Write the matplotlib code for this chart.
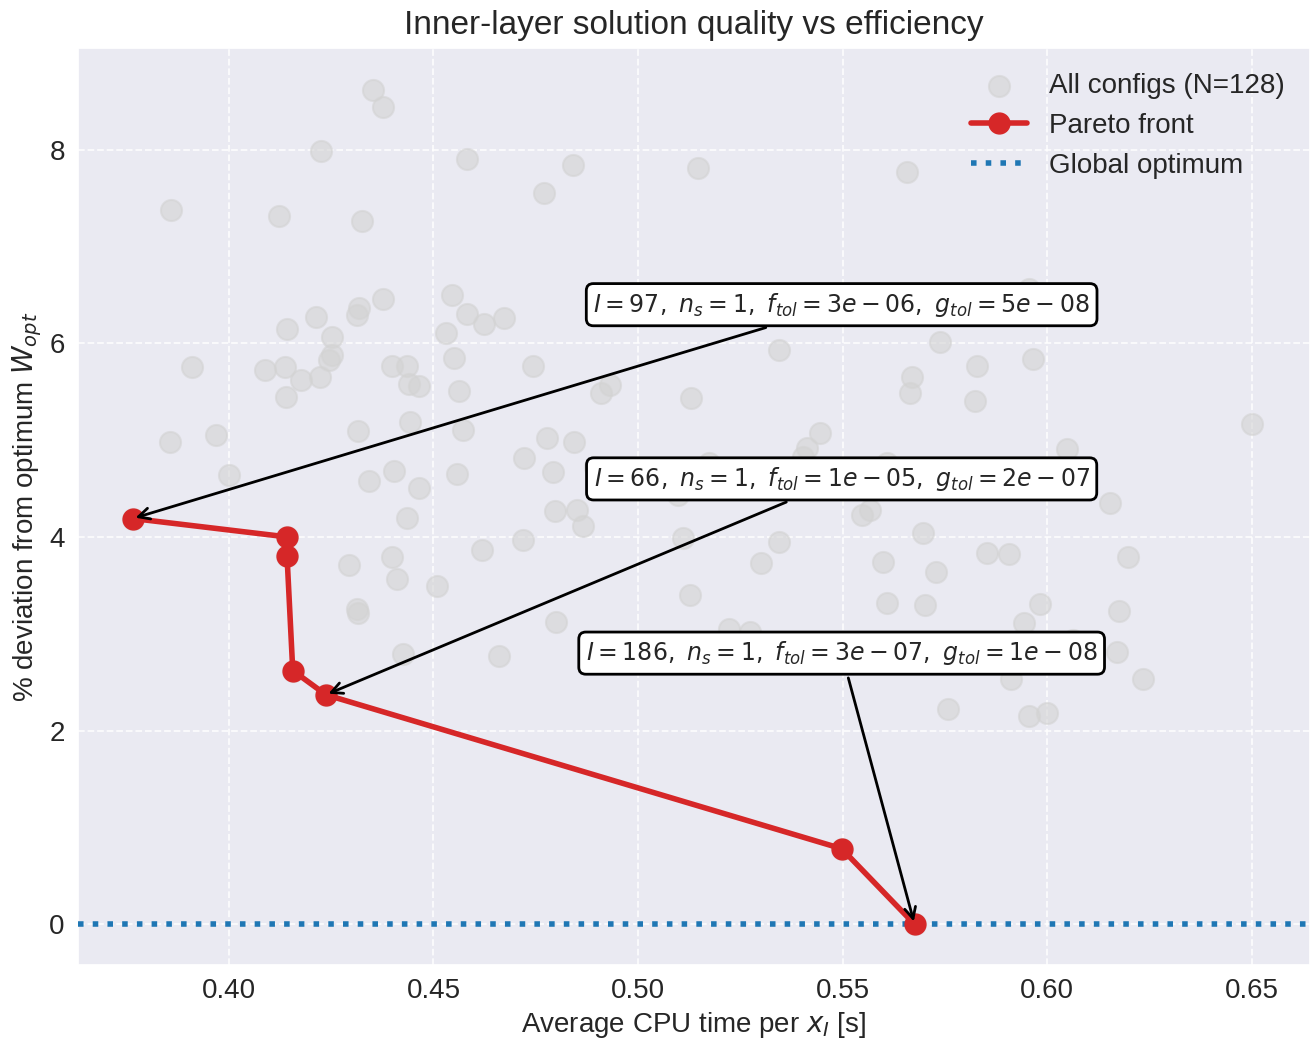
import numpy as np
import matplotlib
matplotlib.use("Agg")
import matplotlib.pyplot as plt
import seaborn as sns

# all evaluated configurations: avg CPU time per x_I [s], % deviation from optimum
cpu_all = [0.4352, 0.4376, 0.4225, 0.4582, 0.4841, 0.4770, 0.5146, 0.5657, 0.3858, 0.4122,
           0.4325, 0.4376, 0.4545, 0.4582, 0.4623, 0.4672, 0.4318, 0.4313, 0.4213, 0.4142,
           0.4252, 0.4530, 0.4252, 0.4244, 0.4550, 0.3910, 0.4088, 0.4137, 0.4398, 0.4435,
           0.4743, 0.4176, 0.4222, 0.4139, 0.4440, 0.4464, 0.4562, 0.4931, 0.4909, 0.5129,
           0.5344, 0.5738, 0.5828, 0.5823, 0.5669, 0.5664, 0.5474, 0.5955, 0.5965, 0.6502,
           0.6048, 0.6023, 0.6155, 0.5852, 0.5906, 0.6199, 0.3856, 0.3968, 0.4000, 0.4315,
           0.4342, 0.4403, 0.4293, 0.4398, 0.4411, 0.4313, 0.4315, 0.4425, 0.4442, 0.4572,
           0.4777, 0.4843, 0.4721, 0.4792, 0.4894, 0.4557, 0.4464, 0.4435, 0.4797, 0.4850,
           0.4865, 0.4718, 0.5109, 0.4618, 0.4508, 0.5127, 0.4799, 0.4660, 0.5097, 0.5444,
           0.5413, 0.5403, 0.5173, 0.5608, 0.5566, 0.5547, 0.5696, 0.5344, 0.5300, 0.5598,
           0.5728, 0.5608, 0.5701, 0.5222, 0.5273, 0.5757, 0.5982, 0.5943, 0.6175, 0.6170,
           0.6234, 0.5913, 0.5955, 0.5999, 0.6063,
           0.3765, 0.4142, 0.4142, 0.4156, 0.4237, 0.5498, 0.5676]
dev_all = [8.62, 8.44, 7.99, 7.90, 7.84, 7.55, 7.81, 7.77, 7.38, 7.31,
           7.26, 6.46, 6.50, 6.30, 6.20, 6.26, 6.36, 6.29, 6.27, 6.15,
           6.06, 6.11, 5.88, 5.83, 5.85, 5.75, 5.72, 5.75, 5.76, 5.77,
           5.77, 5.62, 5.65, 5.45, 5.58, 5.56, 5.51, 5.57, 5.49, 5.43,
           5.93, 6.01, 5.77, 5.40, 5.65, 5.49, 6.33, 6.56, 5.84, 5.17,
           4.91, 4.56, 4.35, 3.83, 3.82, 3.79, 4.98, 5.05, 4.64, 5.09,
           4.58, 4.68, 3.71, 3.79, 3.57, 3.26, 3.21, 2.79, 5.19, 5.10,
           5.02, 4.98, 4.81, 4.67, 4.72, 4.65, 4.50, 4.20, 4.27, 4.28,
           4.11, 3.97, 3.99, 3.86, 3.49, 3.40, 3.12, 2.77, 4.43, 5.07,
           4.92, 4.83, 4.76, 4.76, 4.28, 4.23, 4.04, 3.95, 3.73, 3.74,
           3.64, 3.32, 3.30, 3.05, 3.02, 2.22, 3.31, 3.11, 3.24, 2.81,
           2.53, 2.53, 2.15, 2.18, 2.94,
           4.19, 4.00, 3.80, 2.62, 2.37, 0.78, 0.00]

# non-dominated configurations
pareto_cpu = [0.3765, 0.4142, 0.4142, 0.4156, 0.4237, 0.5498, 0.5676]
pareto_dev = [4.19, 4.00, 3.80, 2.62, 2.37, 0.78, 0.00]

# annotated configs: (index into pareto front, label)
notes = [
    (0, r"$I=97,\ n_s=1,\ f_{tol}=3e-06,\ g_{tol}=5e-08$"),
    (4, r"$I=66,\ n_s=1,\ f_{tol}=1e-05,\ g_{tol}=2e-07$"),
    (6, r"$I=186,\ n_s=1,\ f_{tol}=3e-07,\ g_{tol}=1e-08$"),
]
note_pos = [(0.62, 0.72), (0.62, 0.53), (0.62, 0.34)]

sns.set_theme(style="darkgrid")
plt.rcParams['font.family'] = ['Liberation Sans', 'DejaVu Sans']

fig, ax = plt.subplots(figsize=(13.11, 10.42), dpi=100)
fig.subplots_adjust(left=0.0595, right=0.999, bottom=0.074, top=0.954)

ax.scatter(cpu_all, dev_all, s=230, color='lightgray', alpha=0.6, linewidths=1.5,
           label='All configs (N=128)', zorder=2)
ax.plot(pareto_cpu, pareto_dev, '-o', color='tab:red', linewidth=4, markersize=15,
        label='Pareto front', zorder=4)
ax.axhline(0, color='tab:blue', linestyle=':', linewidth=4, label='Global optimum', zorder=3)

for (i, txt), pos in zip(notes, note_pos):
    ax.annotate(txt, xy=(pareto_cpu[i], pareto_dev[i]), xytext=pos,
                textcoords='axes fraction', ha='center', va='center', fontsize=17,
                bbox=dict(boxstyle='round,pad=0.3', fc='white', ec='black', lw=2),
                arrowprops=dict(arrowstyle='->', color='black', lw=2, mutation_scale=20),
                zorder=5)

ax.grid(True, linestyle='--', linewidth=1.3, alpha=0.8)
ax.set_xlim(0.3631, 0.6642)
ax.set_ylim(-0.42, 9.05)
ax.set_xticks([0.40, 0.45, 0.50, 0.55, 0.60, 0.65])
ax.set_xticklabels(['0.40', '0.45', '0.50', '0.55', '0.60', '0.65'])
ax.set_yticks([0, 2, 4, 6, 8])
ax.tick_params(labelsize=20)

ax.set_xlabel(r'Average CPU time per $x_I$ [s]', fontsize=20)
ax.set_ylabel(r'% deviation from optimum $W_{opt}$', fontsize=20)
ax.set_title('Inner-layer solution quality vs efficiency', fontsize=24, pad=10)
ax.legend(loc='upper right', fontsize=20, frameon=False)

fig.savefig('out.png')
